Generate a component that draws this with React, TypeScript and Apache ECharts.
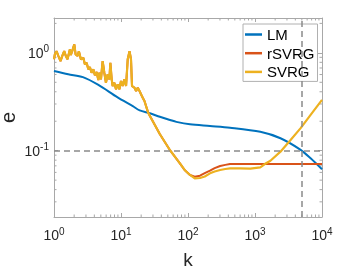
import React, { useEffect, useRef } from "react";
import * as echarts from "echarts";

const X_MIN = 1;
const X_MAX = 10000;
const Y_MIN = 0.021;
const Y_MAX = 2.27;

const seriesNames = ["LM", "rSVRG", "SVRG"];
const colors = ["#0072BD", "#D95319", "#EDB120"];

const lmK = [1, 1.63, 2.7, 4.6, 8.9, 15, 19, 27, 38, 54, 67, 107, 213, 424, 1200, 2400, 4800, 6760, 10000];
const lmE = [0.652, 0.603, 0.565, 0.47, 0.35, 0.285, 0.258, 0.241, 0.222, 0.206, 0.197, 0.186, 0.179, 0.172, 0.156, 0.134, 0.102, 0.0836, 0.0646];

// shared (rSVRG and SVRG coincide) noisy start and descent
const headK = [1, 1.03, 1.09, 1.16, 1.25, 1.33, 1.42, 1.5, 1.59, 1.73, 1.78, 1.87, 2.01, 2.1, 2.25, 2.35, 2.52, 2.74, 2.89, 3.07, 3.25, 3.43, 3.64, 3.86, 4.08, 4.33, 4.59, 4.75, 5.02, 5.32, 5.64, 5.96, 6.32, 6.7, 6.94, 7.26, 7.51, 7.96, 8.42, 8.93, 9.46, 10, 10.6, 11.2, 11.9, 12.6, 13.4, 14.1, 14.6, 15.9, 16.8, 17.8, 18.9, 19.9, 21.1, 22.4, 25.4, 26.9, 37.9, 53.6, 75.7, 89, 107];
const headE = [0.859, 0.966, 1.04, 0.93, 0.824, 0.93, 1.04, 0.93, 0.859, 1.09, 0.95, 1.04, 1.22, 0.966, 0.93, 1.04, 0.859, 0.891, 0.763, 0.792, 0.678, 0.716, 0.626, 0.678, 0.589, 0.637, 0.527, 0.626, 0.536, 0.824, 0.626, 0.495, 0.603, 0.536, 0.792, 0.536, 0.458, 0.495, 0.424, 0.477, 0.424, 0.515, 0.458, 0.536, 0.458, 0.859, 1.04, 0.859, 0.458, 0.44, 0.407, 0.44, 0.407, 0.377, 0.348, 0.322, 0.245, 0.228, 0.148, 0.1016, 0.0743, 0.0635, 0.0565];

const rsvrgTailK = [126, 151, 178, 213, 250, 302, 360, 424, 600, 10000];
const rsvrgTailE = [0.0542, 0.0555, 0.059, 0.0625, 0.0663, 0.0698, 0.0716, 0.073, 0.0731, 0.0731];

const svrgTailK = [126, 151, 178, 213, 250, 302, 360, 424, 600, 850, 1200, 1400, 1700, 2400, 3370, 4800, 6760, 10000];
const svrgTailE = [0.0522, 0.0526, 0.0545, 0.0587, 0.0612, 0.0635, 0.065, 0.066, 0.066, 0.0655, 0.0676, 0.073, 0.079, 0.0977, 0.128, 0.17, 0.232, 0.33];

const refE = 0.1;
const refK = 5000;

const minorMultipliers = [2, 3, 4, 5, 6, 7, 8, 9];
const xDecades = [1, 10, 100, 1000];
const yDecades = [0.01, 0.1, 1];

const FONT = "'Liberation Sans', Arial, Helvetica, sans-serif";
const AXIS = "#a8a8a8";
const TEXT = "#262626";

const pairs = (ks: number[], es: number[]) => ks.map((k, i) => [k, es[i]]);

const fmt = (v: number) => {
  const l = Math.log10(v);
  const r = Math.round(l);
  if (Math.abs(l - r) > 1e-6) return "";
  return `{b|10}{s|${r}}`;
};

const rich = {
  b: { fontSize: 14, fontFamily: FONT, color: TEXT },
  s: { fontSize: 10, fontFamily: FONT, color: TEXT, padding: [0, 0, 8, 0] },
};

export default function App() {
  const ref = useRef<HTMLDivElement>(null);
  useEffect(() => {
    if (!ref.current) return;
    const chart = echarts.init(ref.current, null, { renderer: "svg" });
    const minorX = xDecades.flatMap((d) => minorMultipliers.map((m) => m * d));
    const minorY = yDecades
      .flatMap((d) => minorMultipliers.map((m) => m * d))
      .filter((v) => v > Y_MIN && v < Y_MAX);

    const baseX = {
      type: "log",
      min: X_MIN,
      max: X_MAX,
      logBase: 10,
      axisLine: { show: true, lineStyle: { color: AXIS, width: 1 } },
      axisTick: { show: true, inside: true, length: 4, lineStyle: { color: AXIS } },
      splitLine: { show: false },
      minorTick: { show: false },
    };
    const baseY = {
      type: "log",
      min: Y_MIN,
      max: Y_MAX,
      logBase: 10,
      axisLine: { show: true, lineStyle: { color: AXIS, width: 1 } },
      axisTick: { show: true, inside: true, length: 4, lineStyle: { color: AXIS } },
      splitLine: { show: false },
      minorTick: { show: false },
    };

    chart.setOption({
      animation: false,
      grid: { left: 54, top: 18, width: 268, height: 199, containLabel: false, outerBoundsMode: "none" },
      xAxis: [
        {
          ...baseX,
          position: "bottom",
          name: "k",
          nameLocation: "middle",
          nameGap: 33,
          nameMoveOverlap: false,
          nameTextStyle: { fontSize: 19, fontFamily: FONT, color: TEXT },
          axisLabel: { formatter: fmt, rich, margin: 9, showMinLabel: true, showMaxLabel: true },
        },
        { ...baseX, position: "top", axisLabel: { show: false } },
      ],
      yAxis: [
        {
          ...baseY,
          position: "left",
          name: "e",
          nameLocation: "middle",
          nameGap: 39,
          nameMoveOverlap: false,
          nameTextStyle: { fontSize: 20, lineHeight: 14, fontFamily: FONT, color: TEXT },
          axisLabel: { formatter: fmt, rich, margin: 5 },
        },
        { ...baseY, position: "right", axisLabel: { show: false } },
      ],
      legend: {
        data: seriesNames,
        orient: "vertical",
        left: 243,
        top: 24,
        padding: [3, 3, 2, 2],
        itemGap: 3.7,
        itemWidth: 17,
        itemHeight: 2.5,
        icon: "rect",
        borderColor: "#b0b0b0",
        borderWidth: 1,
        backgroundColor: "#ffffff",
        selectedMode: false,
        textStyle: { fontSize: 15, fontFamily: FONT, color: "#000", lineHeight: 15 },
      },
      series: [
        {
          name: seriesNames[0],
          type: "line",
          data: pairs(lmK, lmE),
          smooth: 0.3,
          showSymbol: false,
          symbol: "none",
          lineStyle: { color: colors[0], width: 2 },
          itemStyle: { color: colors[0] },
          markLine: {
            silent: true,
            symbol: "none",
            label: { show: false },
            lineStyle: { color: "#8a8a8a", width: 1.5, type: [6, 4] },
            data: [{ yAxis: refE }, { xAxis: refK }],
          },
        },
        {
          name: seriesNames[1],
          type: "line",
          data: pairs(headK.concat(rsvrgTailK), headE.concat(rsvrgTailE)),
          showSymbol: false,
          symbol: "none",
          lineStyle: { color: colors[1], width: 2 },
          itemStyle: { color: colors[1] },
        },
        {
          name: seriesNames[2],
          type: "line",
          data: pairs(headK.concat(svrgTailK), headE.concat(svrgTailE)),
          showSymbol: false,
          symbol: "none",
          lineStyle: { color: colors[2], width: 2.2 },
          itemStyle: { color: colors[2] },
        },
        {
          type: "custom",
          silent: true,
          data: minorX.map((v) => [v, refE]),
          renderItem: (params: any, api: any) => {
            const cs = params.coordSys;
            const x = api.coord([api.value(0), refE])[0];
            const bottom = cs.y + cs.height;
            return {
              type: "group",
              children: [
                { type: "line", shape: { x1: x, y1: bottom, x2: x, y2: bottom - 2.5 }, style: { stroke: AXIS, lineWidth: 1 } },
                { type: "line", shape: { x1: x, y1: cs.y, x2: x, y2: cs.y + 2.5 }, style: { stroke: AXIS, lineWidth: 1 } },
              ],
            };
          },
        },
        {
          type: "custom",
          silent: true,
          data: minorY.map((v) => [refK, v]),
          renderItem: (params: any, api: any) => {
            const cs = params.coordSys;
            const y = api.coord([refK, api.value(1)])[1];
            const right = cs.x + cs.width;
            return {
              type: "group",
              children: [
                { type: "line", shape: { x1: cs.x, y1: y, x2: cs.x + 2.5, y2: y }, style: { stroke: AXIS, lineWidth: 1 } },
                { type: "line", shape: { x1: right, y1: y, x2: right - 2.5, y2: y }, style: { stroke: AXIS, lineWidth: 1 } },
              ],
            };
          },
        },
      ],
    });
    return () => chart.dispose();
  }, []);
  return <div ref={ref} style={{ position: "fixed", left: 0, top: 0, width: 354, height: 270 }} />;
}
